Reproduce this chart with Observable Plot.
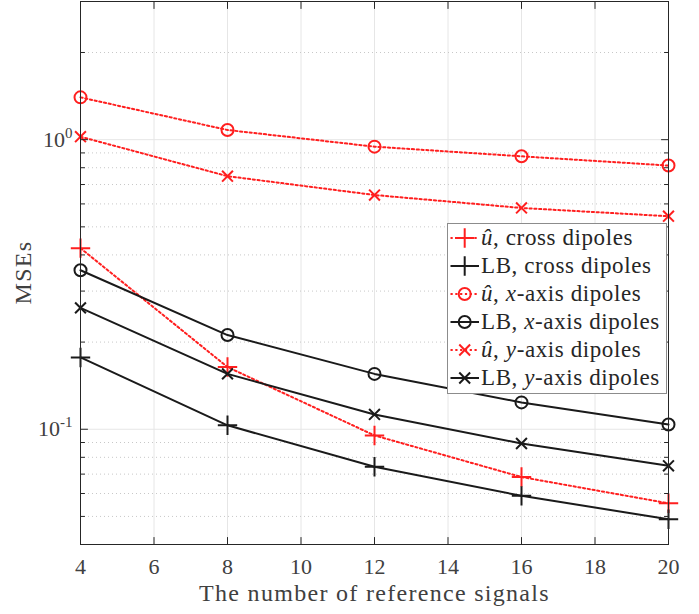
<!DOCTYPE html>
<html><head><meta charset="utf-8">
<script src="https://cdn.jsdelivr.net/npm/d3@7"></script>
<script src="https://cdn.jsdelivr.net/npm/@observablehq/plot@0.6"></script>
<style>
body{margin:0;background:#fff;}
#wrap{position:relative;width:699px;height:614px;}
#legend{position:absolute;left:447px;top:223px;width:220px;height:171px;border:1px solid #8c8c8c;background:#fff;box-sizing:border-box;font-family:"Liberation Serif",serif;font-size:23px;letter-spacing:0.6px;color:#262626;}
.row{position:absolute;left:0;height:28px;width:100%;}
.row svg{position:absolute;left:0;top:0;}
.row span{position:absolute;left:33px;top:0;line-height:28px;white-space:nowrap;}
</style></head><body><div id="wrap"></div>
<script>
const xValues = [4, 8, 12, 16, 20];
const uCross  = [0.422, 0.164, 0.0952, 0.0684, 0.0555];
const lbCross = [0.177, 0.1032, 0.0742, 0.0589, 0.0489];
const uX      = [1.40, 1.08, 0.946, 0.876, 0.814];
const lbX     = [0.354, 0.2115, 0.1553, 0.1238, 0.1038];
const uY      = [1.024, 0.748, 0.644, 0.581, 0.544];
const lbY     = [0.2625, 0.1553, 0.1125, 0.0893, 0.0748];
const legendLabels = [
  "<i>û</i>, cross dipoles",
  "LB, cross dipoles",
  "<i>û</i>, <i>x</i>-axis dipoles",
  "LB, <i>x</i>-axis dipoles",
  "<i>û</i>, <i>y</i>-axis dipoles",
  "LB, <i>y</i>-axis dipoles"
];
const xTicks = [4, 6, 8, 10, 12, 14, 16, 18, 20];
const yMajorTicks = [0.1, 1];
const yTickExponents = ["-1", "0"];
const yMinorTicks = [0.05, 0.06, 0.07, 0.08, 0.09, 0.2, 0.3, 0.4, 0.5, 0.6, 0.7, 0.8, 0.9, 2];
const xLabel = "The number of reference signals";
const yLabel = "MSEs";

const RED = "#ff1f1f", BLACK = "#1a1a1a";
const series = [
  {values: uCross,  color: RED,   dotted: true,  symbol: "plus",   r: 6.3},
  {values: lbCross, color: BLACK, dotted: false, symbol: "plus",   r: 6.3},
  {values: uX,      color: RED,   dotted: true,  symbol: "circle", r: 6},
  {values: lbX,     color: BLACK, dotted: false, symbol: "circle", r: 6},
  {values: uY,      color: RED,   dotted: true,  symbol: "times",  r: 5},
  {values: lbY,     color: BLACK, dotted: false, symbol: "times",  r: 5}
];
const DASH = "2.2,2.6";
const d3Symbols = {plus: d3.symbolPlus, circle: d3.symbolCircle, times: d3.symbolTimes};

const seriesMarks = series.flatMap((s) => {
  const rows = xValues.map((x, i) => ({x, y: s.values[i]}));
  return [
    Plot.line(rows, {x: "x", y: "y", stroke: s.color, strokeWidth: 2, strokeDasharray: s.dotted ? DASH : null}),
    Plot.dot(rows, {x: "x", y: "y", symbol: s.symbol, r: s.r, stroke: s.color, strokeWidth: 2, fill: "none"})
  ];
});

const tickShape = {draw(ctx, l) { ctx.moveTo(0, 0); ctx.lineTo(0, -l); }};
const AX = "#262626";
function ticks(data, channel, frameAnchor, rotate, length) {
  const o = {frameAnchor, rotate, length, anchor: "start", shape: tickShape, stroke: AX, strokeWidth: 1};
  o[channel] = (d) => d;
  return Plot.vector(data, o);
}

const plot = Plot.plot({
  width: 699, height: 614,
  marginLeft: 80, marginRight: 31, marginTop: 1, marginBottom: 70,
  x: {domain: [4, 20]},
  y: {type: "log", domain: [0.04, 3]},
  style: {fontFamily: "Liberation Serif, serif", fontSize: "22px", color: AX, background: "#fff"},
  marks: [
    Plot.ruleX(xTicks, {stroke: "#e6e6e6", strokeWidth: 1}),
    Plot.ruleY(yMajorTicks, {stroke: "#e6e6e6", strokeWidth: 1}),
    Plot.ruleY(yMinorTicks, {stroke: "#c8c8c8", strokeWidth: 1, strokeDasharray: "1,3"}),
    ...seriesMarks,
    Plot.frame({stroke: AX, strokeWidth: 1}),
    ticks(xTicks, "x", "bottom", 0, 7),
    ticks(xTicks, "x", "top", 180, 7),
    ticks(yMajorTicks, "y", "left", 90, 7),
    ticks(yMajorTicks, "y", "right", -90, 7),
    ticks(yMinorTicks, "y", "left", 90, 4),
    ticks(yMinorTicks, "y", "right", -90, 4),
    Plot.axisX({ticks: xTicks, tickSize: 0, tickPadding: 14, label: null, fill: "#404040"}),
    Plot.axisY({ticks: yMajorTicks, tickSize: 0, tickPadding: 8, label: null, fill: "#404040", tickFormat: (d) => "10"}),
    Plot.text([xLabel], {text: (d) => d, frameAnchor: "bottom", lineAnchor: "middle", textAnchor: "middle", dy: 49, fill: "#404040", fontSize: 24})
  ]
});

// superscript exponents on the log tick labels
plot.querySelectorAll('g[aria-label="y-axis tick label"] text').forEach((t, i) => {
  const sup = document.createElementNS("http://www.w3.org/2000/svg", "tspan");
  sup.setAttribute("dy", "-9");
  sup.setAttribute("font-size", "15");
  sup.textContent = yTickExponents[i];
  t.appendChild(sup);
});
plot.querySelectorAll('g[aria-label="text"] text').forEach((t) => t.setAttribute("letter-spacing", "1.3"));

const wrap = document.getElementById("wrap");
wrap.appendChild(plot);

// y-axis title, centred on the frame's vertical middle (from the y scale's range), measured after layout
const yRange = plot.scale("y").range;
const yMid = (yRange[0] + yRange[1]) / 2;
const yTitle = d3.select(plot).append("text")
  .attr("text-anchor", "start")
  .attr("dominant-baseline", "central")
  .attr("font-family", "Liberation Serif, serif")
  .attr("font-size", 24)
  .attr("letter-spacing", "1.3")
  .attr("fill", "#404040")
  .text(yLabel);
const titleLen = yTitle.node().getComputedTextLength();
yTitle.attr("transform", `translate(23,${yMid + titleLen / 2}) rotate(-90)`);

// legend
const legend = document.createElement("div");
legend.id = "legend";
series.forEach((s, i) => {
  const row = document.createElement("div");
  row.className = "row";
  row.style.top = (28 * i) + "px";
  const sym = d3.symbol(d3Symbols[s.symbol], Math.PI * s.r * s.r)();
  row.innerHTML =
    `<svg width="34" height="28"><line x1="2.5" x2="31" y1="14" y2="14" stroke="${s.color}" stroke-width="2" ${s.dotted ? `stroke-dasharray="${DASH}"` : ""}/>` +
    `<path d="${sym}" transform="translate(16.7,14)" fill="none" stroke="${s.color}" stroke-width="2"/></svg>` +
    `<span>${legendLabels[i]}</span>`;
  legend.appendChild(row);
});
wrap.appendChild(legend);
</script></body></html>
